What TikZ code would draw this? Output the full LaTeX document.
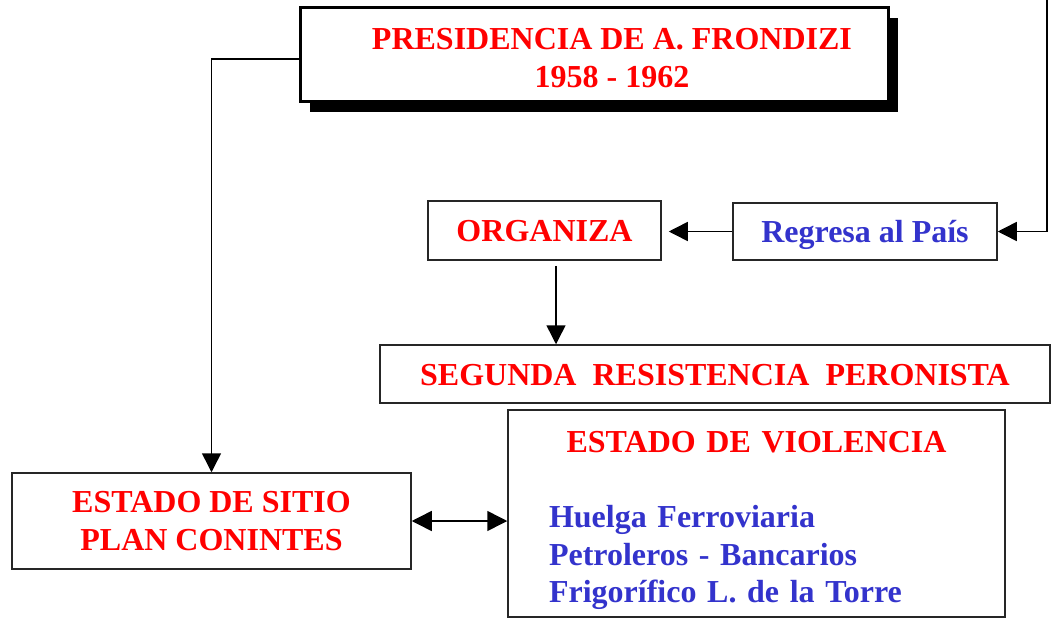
\documentclass[tikz,border=0pt]{standalone}
\usepackage{fontspec}
\setmainfont{Liberation Serif}
\usetikzlibrary{arrows.meta,shadows}
\definecolor{rojo}{RGB}{255,0,0}
\definecolor{azul}{RGB}{51,51,204}
\begin{document}
\begin{tikzpicture}[x=1pt,y=-1pt,
  font=\fontsize{32pt}{38pt}\selectfont\bfseries,
  box/.style={draw=black!85, line width=1.5pt, fill=white, inner sep=0pt, align=center, text=rojo},
  oneline/.style={text height=22pt, text depth=0pt},
  conn/.style={line width=1.5pt, draw=black},
  tip/.style={-{Triangle[length=19pt,width=19pt]}},
  dtip/.style={{Triangle[length=20pt,width=20pt]}-{Triangle[length=20pt,width=20pt]}}]
\useasboundingbox[fill=white] (0,0) rectangle (1051,623);

\node[box, line width=3pt, draw=black, minimum width=588pt, minimum height=94pt,
      drop shadow={shadow xshift=10pt, shadow yshift=-10pt, opacity=1, fill=black}]
  (pres) at (594,55) {\rule{0pt}{27pt}\hspace*{36pt}PRESIDENCIA DE A. FRONDIZI\\\hspace*{36pt}1958 - 1962};

\node[box, oneline, minimum width=233pt, minimum height=59pt] (organiza) at (544.5,230.5) {ORGANIZA};
\node[box, oneline, text=azul, minimum width=264pt, minimum height=57pt] (regresa) at (865,231.5) {Regresa al País};
\node[box, oneline, minimum width=670pt, minimum height=58pt] (segunda) at (715,374) {SEGUNDA\ \ RESISTENCIA\ \ PERONISTA};
\node[box, minimum width=399pt, minimum height=96pt] (sitio) at (211.5,521) {ESTADO DE SITIO\\PLAN CONINTES};
\node[box, text=azul, align=left, text width=415pt, minimum width=497pt, minimum height=207pt,
      font=\fontsize{32pt}{37.5pt}\selectfont\bfseries] (violencia) at (756.5,513.5)
  {\rule{0pt}{36pt}\makebox[\linewidth]{\color{rojo}ESTADO DE VIOLENCIA}\\[37.5pt]
   Huelga Ferroviaria\\
   Petroleros - Bancarios\\
   Frigorífico L. de la Torre};

\coordinate (rtop) at (1047,0);
\draw[conn, tip] (rtop) |- (regresa.east);
\draw[conn, tip, shorten >=7pt] (regresa.west) -- (regresa.west -| organiza.east);
\draw[conn, tip] ([xshift=11.5pt,yshift=-5pt]organiza.south) -- ([xshift=11.5pt]organiza.south |- segunda.north);
\draw[conn, tip] ([yshift=-4pt]pres.west) -| (sitio.north);
\draw[conn, dtip] (sitio.east) -- (sitio.east -| violencia.west);
\end{tikzpicture}
\end{document}
